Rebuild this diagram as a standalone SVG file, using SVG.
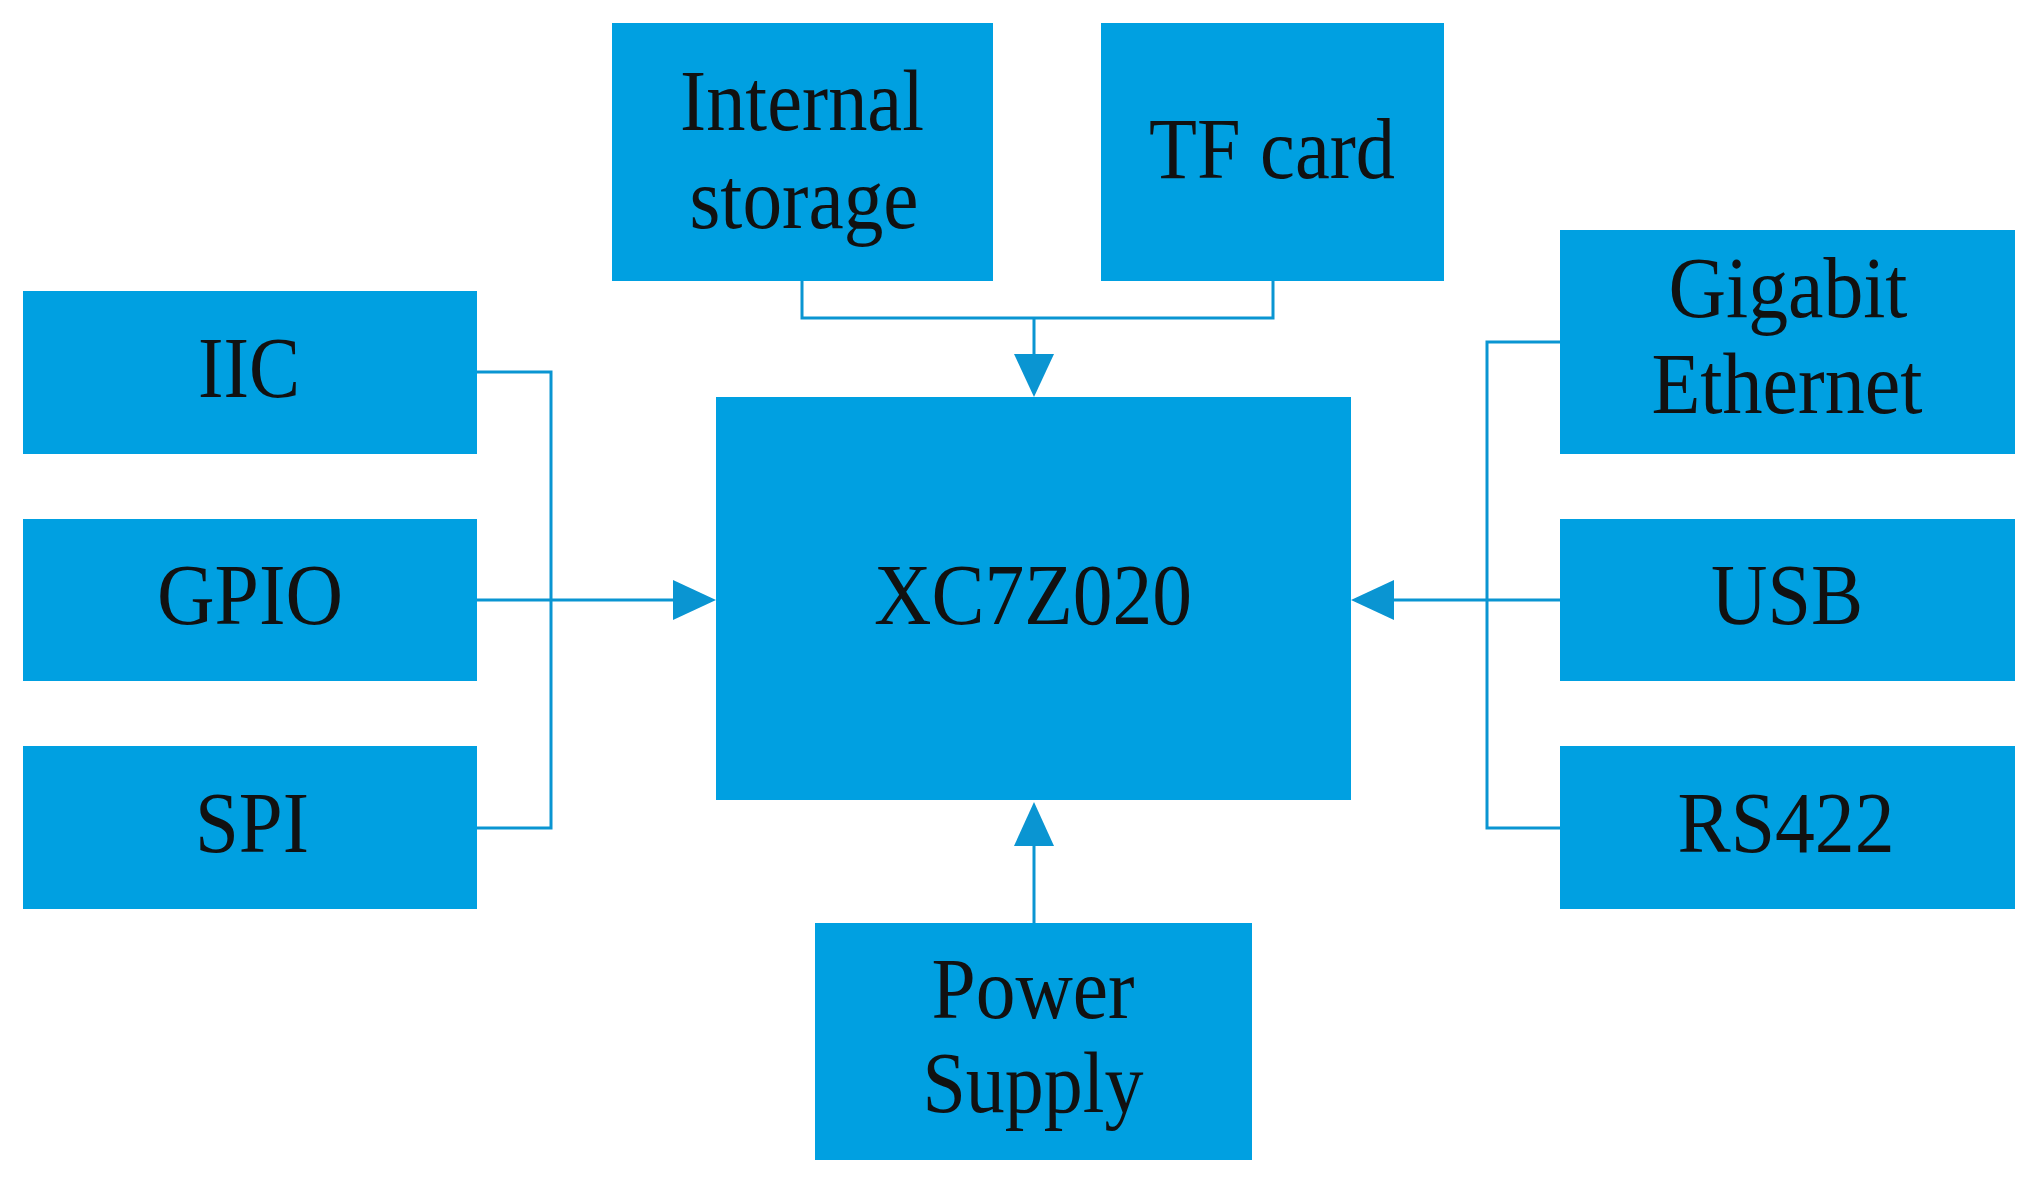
<svg xmlns="http://www.w3.org/2000/svg" width="2027" height="1179" viewBox="0 0 2027 1179">
<style>
.b{fill:#00A0E1}
.t{font-family:"Liberation Serif","Times New Roman",serif;font-size:86px;fill:#111;text-anchor:middle}
.c{fill:none;stroke:#0A95D2;stroke-width:3}
.a{fill:#0A95D2}
</style>
<rect width="2027" height="1179" fill="#fff"/>
<g id="connectors">
<path class="c" d="M802 281V318H1273V281M1034 318V360"/>
<polygon class="a" points="1014,354 1054,354 1034,397"/>
<path class="c" d="M477 372H551V828H477M477 600H675"/>
<polygon class="a" points="673,580 673,620 716,600"/>
<path class="c" d="M1560 342H1487V828H1560M1560 600H1390"/>
<polygon class="a" points="1394,580 1394,620 1351,600"/>
<path class="c" d="M1034 923V840"/>
<polygon class="a" points="1014,846 1054,846 1034,802"/>
</g>
<g id="internal"><rect class="b" x="612" y="23" width="381" height="258"/><text class="t" x="802" y="130" textLength="244" lengthAdjust="spacingAndGlyphs">Internal</text><text class="t" x="804" y="228" textLength="229" lengthAdjust="spacingAndGlyphs">storage</text></g>
<g id="tf"><rect class="b" x="1101" y="23" width="343" height="258"/><text class="t" x="1272" y="178" textLength="246" lengthAdjust="spacingAndGlyphs">TF card</text></g>
<g id="iic"><rect class="b" x="23" y="291" width="454" height="163"/><text class="t" x="249" y="397" textLength="102" lengthAdjust="spacingAndGlyphs">IIC</text></g>
<g id="gpio"><rect class="b" x="23" y="519" width="454" height="162"/><text class="t" x="250" y="624" textLength="186" lengthAdjust="spacingAndGlyphs">GPIO</text></g>
<g id="spi"><rect class="b" x="23" y="746" width="454" height="163"/><text class="t" x="252" y="852" textLength="114" lengthAdjust="spacingAndGlyphs">SPI</text></g>
<g id="xc"><rect class="b" x="716" y="397" width="635" height="403"/><text class="t" x="1033" y="624" textLength="318" lengthAdjust="spacingAndGlyphs">XC7Z020</text></g>
<g id="gige"><rect class="b" x="1560" y="230" width="455" height="224"/><text class="t" x="1788" y="317" textLength="239" lengthAdjust="spacingAndGlyphs">Gigabit</text><text class="t" x="1787" y="413" textLength="271" lengthAdjust="spacingAndGlyphs">Ethernet</text></g>
<g id="usb"><rect class="b" x="1560" y="519" width="455" height="162"/><text class="t" x="1787" y="624" textLength="152" lengthAdjust="spacingAndGlyphs">USB</text></g>
<g id="rs422"><rect class="b" x="1560" y="746" width="455" height="163"/><text class="t" x="1786" y="852" textLength="217" lengthAdjust="spacingAndGlyphs">RS422</text></g>
<g id="power"><rect class="b" x="815" y="923" width="437" height="237"/><text class="t" x="1033" y="1018" textLength="203" lengthAdjust="spacingAndGlyphs">Power</text><text class="t" x="1033" y="1112" textLength="221" lengthAdjust="spacingAndGlyphs">Supply</text></g>
</svg>
